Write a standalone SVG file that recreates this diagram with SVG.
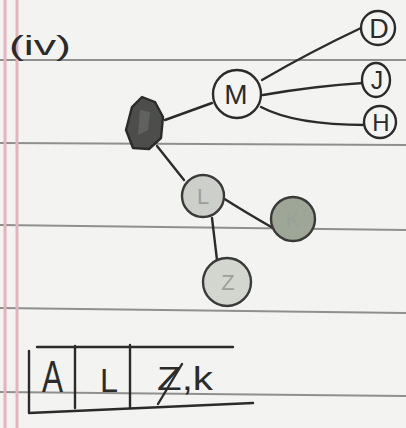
<svg xmlns="http://www.w3.org/2000/svg" width="406" height="428" viewBox="0 0 406 428">
<style>
.rule{stroke:#8e908e;stroke-width:2;fill:none}
.margin{stroke:#e6b2bd;stroke-width:3;fill:none}
.ink{stroke:#2b2b2b;stroke-width:2.4;fill:none;stroke-linecap:round;stroke-linejoin:round}
.node{stroke:#2b2b2b;stroke-width:2.4;fill:#f4f5f2}
.lbl{font-family:"Liberation Sans",Arial,sans-serif;fill:#2b2b2b;text-anchor:middle}
.faint{font-family:"Liberation Sans",Arial,sans-serif;fill:#9c9f9a;text-anchor:middle}
.hand{font-family:"Liberation Sans",Arial,sans-serif;fill:#2b2b2b}
</style>
<rect width="406" height="428" fill="#f3f4f1"/>
<g id="paper">
<line class="rule" x1="0" y1="60" x2="406" y2="60"/>
<line class="rule" x1="0" y1="143" x2="406" y2="145"/>
<line class="rule" x1="0" y1="225" x2="406" y2="230"/>
<line class="rule" x1="0" y1="308" x2="406" y2="313"/>
<line class="rule" x1="0" y1="392" x2="406" y2="396"/>
<line class="margin" x1="5" y1="0" x2="5" y2="428"/>
<line class="margin" x1="17" y1="0" x2="17" y2="428"/>
</g>
<text class="hand" x="9" y="55" font-size="28" textLength="62" lengthAdjust="spacingAndGlyphs" fill="#444">(iv)</text>
<g id="connectors">
<path class="ink" d="M165,120 L212,103"/>
<path class="ink" d="M157,146 L184,180"/>
<path class="ink" d="M223,198 Q245,212 273,228"/>
<path class="ink" d="M212,218 L217,260"/>
<path class="ink" d="M262,80 Q310,52 361,28"/>
<path class="ink" d="M263,95 Q315,86 363,83"/>
<path class="ink" d="M261,107 Q295,125 366,125"/>
</g>
<g id="node-A">
<polygon points="126,130 132,107 142,97 155,102 163,117 161,138 149,149 133,148" fill="#4d4e4c" stroke="#2b2b2b" stroke-width="2.4" stroke-linejoin="round"/>
<path d="M140,110 L150,112 L148,130 L138,135 Z" fill="#6d6f6b" opacity="0.6"/>
</g>
<g id="node-M">
<circle class="node" cx="237" cy="94" r="24"/>
<text class="lbl" x="236" y="104" font-size="28">M</text>
</g>
<g id="node-D">
<circle class="node" cx="378" cy="28" r="17"/>
<text class="lbl" x="379" y="38" font-size="27">D</text>
</g>
<g id="node-J">
<ellipse class="node" cx="376" cy="80" rx="14" ry="17"/>
<text class="lbl" x="377" y="89" font-size="25">J</text>
</g>
<g id="node-H">
<circle class="node" cx="380" cy="122" r="16"/>
<text class="lbl" x="381" y="131" font-size="24">H</text>
</g>
<g id="node-L">
<circle cx="203" cy="196" r="21" fill="#cdcfcb" stroke="#3a3b39" stroke-width="2.4"/>
<text class="faint" x="203" y="204" font-size="22">L</text>
</g>
<g id="node-K">
<circle cx="293" cy="219" r="22" fill="#9ea697" stroke="#3a3b39" stroke-width="2.4"/>
<text class="faint" x="293" y="227" font-size="22" fill="#bfc4ba">K</text>
</g>
<g id="node-Z">
<circle cx="227" cy="282" r="24" fill="#d3d6cf" stroke="#3a3b39" stroke-width="2.4"/>
<text class="faint" x="228" y="290" font-size="22">Z</text>
</g>
<g id="table">
<path class="ink" d="M37,347 L233,347"/>
<path class="ink" d="M29,351 L29,413 L253,403"/>
<path class="ink" d="M75,346 L75,408"/>
<path class="ink" d="M130,345 L130,408"/>
<text class="hand" x="42" y="392" font-size="44" textLength="21" lengthAdjust="spacingAndGlyphs">A</text>
<text class="hand" x="100" y="392" font-size="34" textLength="18" lengthAdjust="spacingAndGlyphs">L</text>
<text class="hand" x="157" y="390" font-size="34" textLength="56" lengthAdjust="spacingAndGlyphs">Z,k</text>
<path class="ink" d="M158,404 L182,364"/>
</g>
</svg>
